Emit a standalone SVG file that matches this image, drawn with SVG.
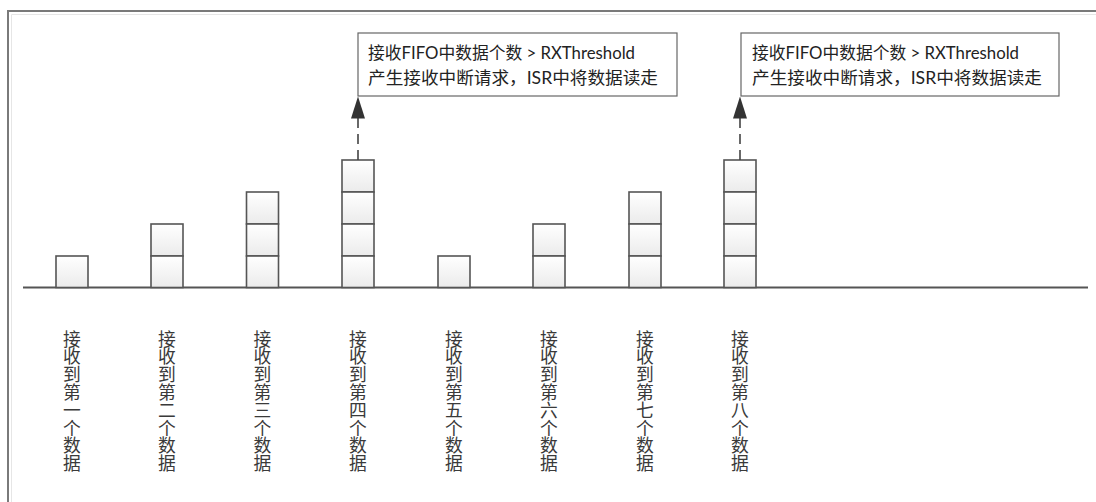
<svg xmlns="http://www.w3.org/2000/svg" width="1096" height="502" viewBox="0 0 1096 502">
<style>
.blk{fill:url(#g);stroke:#555;stroke-width:1.6}
.note{fill:#fff;stroke:#666;stroke-width:1.2}
.nt{font-family:"Lato","Noto Sans CJK SC",sans-serif;font-size:17px;fill:#222}
.vt{font-family:"Noto Sans CJK SC",sans-serif;font-size:17.8px;fill:#3a3a3a;writing-mode:vertical-rl;letter-spacing:0}
.conn{stroke:#444;stroke-width:1.6;stroke-dasharray:10 6;fill:none}
</style>
<defs>
<linearGradient id="g" x1="0" y1="0" x2="0" y2="1">
<stop offset="0" stop-color="#ffffff"/>
<stop offset="1" stop-color="#ebebeb"/>
</linearGradient>
<marker id="ah" markerWidth="22" markerHeight="14" refX="22" refY="7" orient="auto" markerUnits="userSpaceOnUse" viewBox="0 0 22 14">
<path d="M0,0 L22,7 L0,14 Z" fill="#333"/>
</marker>
</defs>
<g id="frame">
<path d="M8,502 V11 H1096" fill="none" stroke="#7a7a7a" stroke-width="2"/>
<path d="M11.5,502 V14.5 H1096" fill="none" stroke="#e6e6e6" stroke-width="1"/>
</g>
<g id="baseline">
<line x1="23" y1="287.5" x2="1088" y2="287.5" stroke="#555" stroke-width="1.8"/>
</g>
<g id="stack1"><rect class="blk" x="56" y="256" width="32" height="31.5"/></g>
<g id="stack2"><rect class="blk" x="151" y="224" width="32" height="32"/><rect class="blk" x="151" y="256" width="32" height="31.5"/></g>
<g id="stack3"><rect class="blk" x="246.5" y="192" width="32" height="32"/><rect class="blk" x="246.5" y="224" width="32" height="32"/><rect class="blk" x="246.5" y="256" width="32" height="31.5"/></g>
<g id="stack4"><rect class="blk" x="342" y="160" width="32" height="32"/><rect class="blk" x="342" y="192" width="32" height="32"/><rect class="blk" x="342" y="224" width="32" height="32"/><rect class="blk" x="342" y="256" width="32" height="31.5"/></g>
<g id="stack5"><rect class="blk" x="438" y="256" width="32" height="31.5"/></g>
<g id="stack6"><rect class="blk" x="533" y="224" width="32" height="32"/><rect class="blk" x="533" y="256" width="32" height="31.5"/></g>
<g id="stack7"><rect class="blk" x="629" y="192" width="32" height="32"/><rect class="blk" x="629" y="224" width="32" height="32"/><rect class="blk" x="629" y="256" width="32" height="31.5"/></g>
<g id="stack8"><rect class="blk" x="724" y="160" width="32" height="32"/><rect class="blk" x="724" y="192" width="32" height="32"/><rect class="blk" x="724" y="224" width="32" height="32"/><rect class="blk" x="724" y="256" width="32" height="31.5"/></g>
<g id="note1">
<rect class="note" x="358" y="33" width="319" height="63"/>
<text class="nt" x="368" y="59" textLength="267" lengthAdjust="spacingAndGlyphs">接收FIFO中数据个数 &gt; RXThreshold</text>
<text class="nt" x="368" y="84" textLength="290" lengthAdjust="spacingAndGlyphs">产生接收中断请求，ISR中将数据读走</text>
</g>
<g id="note2">
<rect class="note" x="741" y="33" width="318" height="63"/>
<text class="nt" x="752" y="59" textLength="267" lengthAdjust="spacingAndGlyphs">接收FIFO中数据个数 &gt; RXThreshold</text>
<text class="nt" x="752" y="84" textLength="290" lengthAdjust="spacingAndGlyphs">产生接收中断请求，ISR中将数据读走</text>
</g>
<g id="connectors">
<line class="conn" x1="358" y1="160" x2="358" y2="96.5" marker-end="url(#ah)"/>
<line class="conn" x1="740" y1="160" x2="740" y2="96.5" marker-end="url(#ah)"/>
</g>
<g id="labels">
<text class="vt" x="72" y="330">接收到第一个数据</text>
<text class="vt" x="167" y="330">接收到第二个数据</text>
<text class="vt" x="262.5" y="330">接收到第三个数据</text>
<text class="vt" x="358" y="330">接收到第四个数据</text>
<text class="vt" x="454" y="330">接收到第五个数据</text>
<text class="vt" x="549" y="330">接收到第六个数据</text>
<text class="vt" x="645" y="330">接收到第七个数据</text>
<text class="vt" x="740" y="330">接收到第八个数据</text>
</g>
</svg>
